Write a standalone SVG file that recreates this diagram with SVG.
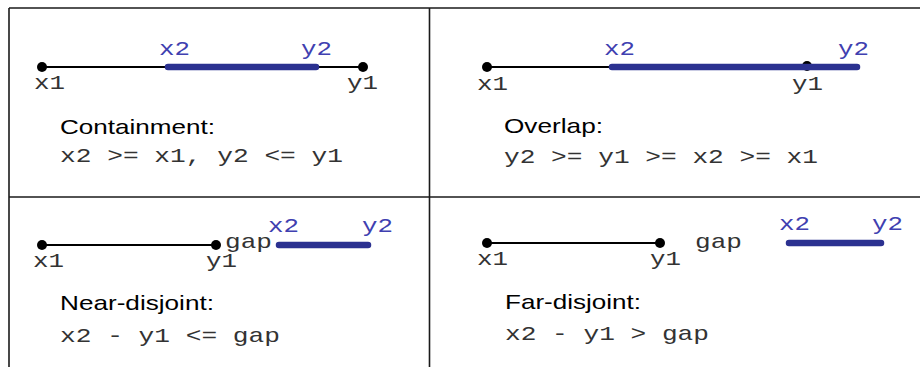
<svg xmlns="http://www.w3.org/2000/svg" width="920" height="367" viewBox="0 0 920 367">
<style>
.frame{stroke:#1a1a1a;stroke-width:1.6;fill:none}
.seg{stroke:#000;stroke-width:2;fill:none}
.bar{stroke:#2b3190;stroke-width:6.5;stroke-linecap:round;fill:none}
.dot{fill:#000}
.m{font-family:"Liberation Mono","Courier New",monospace;font-size:21px;fill:#333}
.mb{font-family:"Liberation Mono","Courier New",monospace;font-size:21px;fill:#4040b0}
.s{font-family:"Liberation Sans",Arial,sans-serif;font-size:21px;fill:#000}
</style>
<rect width="920" height="367" fill="#fff"/>
<g id="grid">
<line class="frame" x1="9" y1="8" x2="920" y2="8"/>
<line class="frame" x1="9" y1="8" x2="9" y2="367"/>
<line class="frame" x1="429.5" y1="8" x2="429.5" y2="367"/>
<line class="frame" x1="9" y1="197" x2="920" y2="197"/>
</g>
<g id="containment">
<line class="seg" x1="42" y1="67" x2="363" y2="67"/>
<circle class="dot" cx="42" cy="67" r="5"/>
<circle class="dot" cx="363" cy="67" r="5"/>
<line class="bar" x1="168" y1="67" x2="316" y2="67"/>
<text class="m" x="34" y="89" textLength="31" lengthAdjust="spacingAndGlyphs">x1</text>
<text class="mb" x="159" y="55" textLength="31" lengthAdjust="spacingAndGlyphs">x2</text>
<text class="mb" x="301" y="55" textLength="31" lengthAdjust="spacingAndGlyphs">y2</text>
<text class="m" x="347" y="89" textLength="31" lengthAdjust="spacingAndGlyphs">y1</text>
<text class="s" x="60" y="134" textLength="155" lengthAdjust="spacingAndGlyphs">Containment:</text>
<text class="m" x="60" y="162" textLength="283" lengthAdjust="spacingAndGlyphs">x2 &gt;= x1, y2 &lt;= y1</text>
</g>
<g id="overlap">
<line class="seg" x1="487" y1="67" x2="612" y2="67"/>
<circle class="dot" cx="487" cy="67" r="5"/>
<circle class="dot" cx="807" cy="66" r="5"/>
<line class="bar" x1="612" y1="67" x2="857" y2="67"/>
<text class="m" x="477" y="90" textLength="31" lengthAdjust="spacingAndGlyphs">x1</text>
<text class="mb" x="604" y="55" textLength="31" lengthAdjust="spacingAndGlyphs">x2</text>
<text class="mb" x="838" y="55" textLength="31" lengthAdjust="spacingAndGlyphs">y2</text>
<text class="m" x="792" y="90" textLength="31" lengthAdjust="spacingAndGlyphs">y1</text>
<text class="s" x="504" y="133" textLength="99" lengthAdjust="spacingAndGlyphs">Overlap:</text>
<text class="m" x="504" y="163" textLength="314" lengthAdjust="spacingAndGlyphs">y2 &gt;= y1 &gt;= x2 &gt;= x1</text>
</g>
<g id="near-disjoint">
<line class="seg" x1="42" y1="245" x2="216" y2="245"/>
<circle class="dot" cx="42" cy="245" r="5"/>
<circle class="dot" cx="216" cy="245" r="5"/>
<line class="bar" x1="279" y1="245" x2="368" y2="245"/>
<text class="m" x="33" y="267" textLength="31" lengthAdjust="spacingAndGlyphs">x1</text>
<text class="m" x="206" y="267" textLength="31" lengthAdjust="spacingAndGlyphs">y1</text>
<text class="m" x="225" y="248" textLength="47" lengthAdjust="spacingAndGlyphs">gap</text>
<text class="mb" x="268" y="232" textLength="31" lengthAdjust="spacingAndGlyphs">x2</text>
<text class="mb" x="362" y="232" textLength="31" lengthAdjust="spacingAndGlyphs">y2</text>
<text class="s" x="60" y="310" textLength="154" lengthAdjust="spacingAndGlyphs">Near-disjoint:</text>
<text class="m" x="60" y="342" textLength="220" lengthAdjust="spacingAndGlyphs">x2 - y1 &lt;= gap</text>
</g>
<g id="far-disjoint">
<line class="seg" x1="487" y1="243" x2="660" y2="243"/>
<circle class="dot" cx="487" cy="243" r="5"/>
<circle class="dot" cx="660" cy="243" r="5"/>
<line class="bar" x1="789" y1="243" x2="881" y2="243"/>
<text class="m" x="477" y="265" textLength="31" lengthAdjust="spacingAndGlyphs">x1</text>
<text class="m" x="650" y="265" textLength="31" lengthAdjust="spacingAndGlyphs">y1</text>
<text class="m" x="695" y="248" textLength="47" lengthAdjust="spacingAndGlyphs">gap</text>
<text class="mb" x="779" y="230" textLength="31" lengthAdjust="spacingAndGlyphs">x2</text>
<text class="mb" x="872" y="230" textLength="31" lengthAdjust="spacingAndGlyphs">y2</text>
<text class="s" x="505" y="309" textLength="136" lengthAdjust="spacingAndGlyphs">Far-disjoint:</text>
<text class="m" x="505" y="340" textLength="204" lengthAdjust="spacingAndGlyphs">x2 - y1 &gt; gap</text>
</g>
</svg>
